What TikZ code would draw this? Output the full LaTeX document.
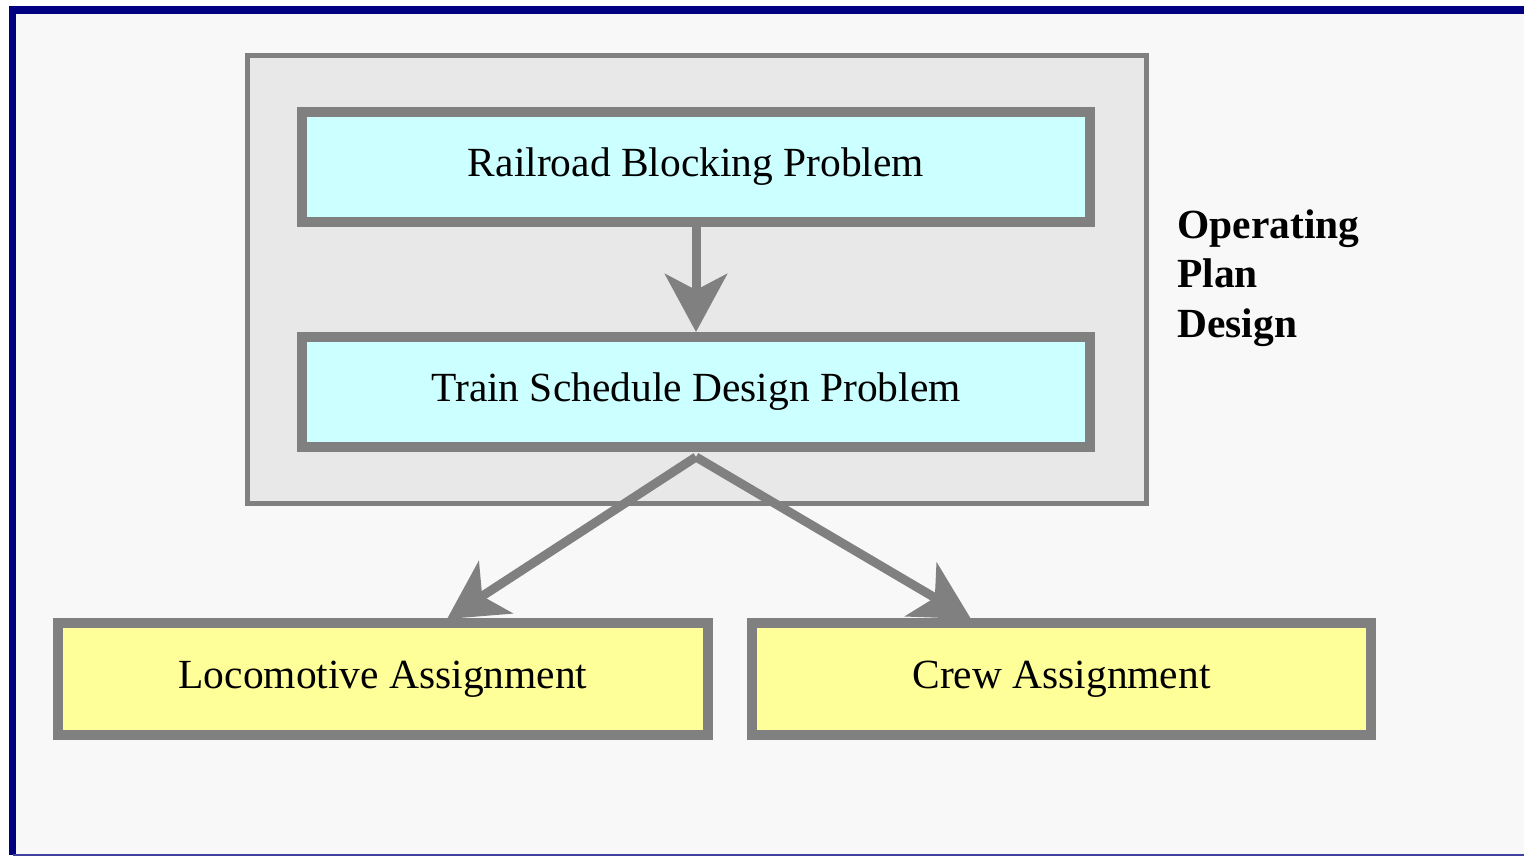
\documentclass[tikz,border=0pt]{standalone}
\usepackage{fontspec}
\setmainfont{Liberation Serif}
\usetikzlibrary{arrows.meta,positioning}

\definecolor{framenavy}{HTML}{000080}
\definecolor{pagebg}{HTML}{F8F8F8}
\definecolor{panelbg}{HTML}{E8E8E8}
\definecolor{edgegray}{HTML}{808080}
\definecolor{probcyan}{HTML}{CCFFFF}
\definecolor{assignyellow}{HTML}{FFFF99}

\begin{document}
\begin{tikzpicture}[
  x=0.02cm,y=-0.02cm,
  box/.style={draw=edgegray, line width=0.2cm, inner sep=0pt, minimum height=2.2cm, font=\fontsize{23.6}{28}\selectfont},
  panel/.style={draw=edgegray, line width=0.1cm, fill=panelbg, inner sep=0pt},
  arr/.style={draw=edgegray, line width=0.18cm, -{Stealth[length=1.16cm, width=1.24cm, inset=0.32cm]}}
]
\useasboundingbox (0,0) rectangle (1524,857);
\fill[white] (0,0) rectangle (1524,857);
\fill[pagebg] (12.5,10) rectangle (1524,855);
\draw[framenavy, line width=0.15cm] (1524,10) -- (12.5,10) -- (12.5,855);
\draw[framenavy!75, line width=0.04cm] (12.5,855) -- (1524,855);

\node[panel, minimum width=17.98cm, minimum height=8.96cm] (opbox) at (697,279.5) {};
\node[box, fill=probcyan, minimum width=15.76cm] (rbp) at (696,167) {Railroad Blocking Problem};
\node[box, fill=probcyan, minimum width=15.76cm] (tsd) at (696,392) {Train Schedule Design Problem};
\node[box, fill=assignyellow, minimum width=13cm, minimum height=2.24cm] (loco) at (383,679) {Locomotive Assignment};
\node[box, fill=assignyellow, minimum width=12.38cm, minimum height=2.24cm] (crew) at (1061.5,679) {Crew Assignment};
\node[anchor=west, align=left, inner sep=0pt, font=\fontsize{23.6}{28}\selectfont\bfseries] (opd) at (1177,278)
{Operating\\Plan\\Design};

\coordinate (lochead) at ([xshift=1.28cm, yshift=-0.02cm]loco.north);
\coordinate (crewhead) at ([xshift=-1.81cm, yshift=-0.02cm]crew.north);
\draw[arr] (rbp.south) -- (tsd.north);
\draw[arr] ([yshift=-0.1cm]tsd.south) -- (lochead);
\draw[arr] ([yshift=-0.1cm]tsd.south) -- (crewhead);
\end{tikzpicture}
\end{document}
